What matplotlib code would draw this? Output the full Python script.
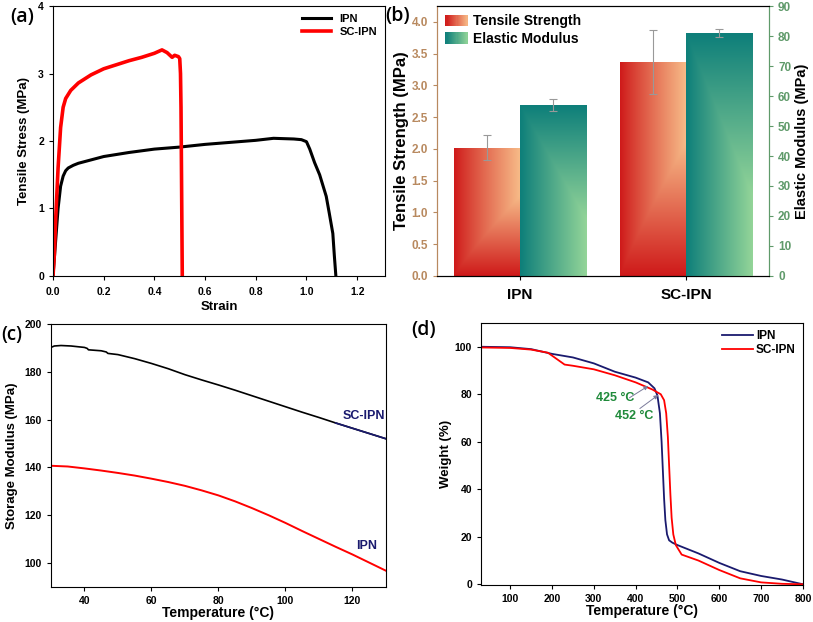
import numpy as np
import matplotlib
matplotlib.use('Agg')
import matplotlib.pyplot as plt
from matplotlib.patches import Rectangle
from matplotlib.legend_handler import HandlerBase
from matplotlib.colors import to_rgb

plt.rcParams['font.family'] = ['Liberation Sans', 'DejaVu Sans']
plt.rcParams['font.weight'] = 'bold'
plt.rcParams['axes.labelweight'] = 'bold'
plt.rcParams['xtick.direction'] = 'out'
plt.rcParams['ytick.direction'] = 'out'

# (a) tensile stress-strain curves
strain_ipn = [0, 0.01, 0.02, 0.03, 0.04, 0.05, 0.06, 0.08, 0.1, 0.15, 0.2, 0.3, 0.4, 0.5,
              0.6, 0.7, 0.8, 0.87, 0.95, 0.98, 1.0, 1.013, 1.032, 1.052, 1.078, 1.09,
              1.104, 1.11, 1.114, 1.116]
stress_ipn = [0, 0.5, 1.0, 1.33, 1.48, 1.56, 1.6, 1.64, 1.67, 1.72, 1.77, 1.83, 1.88, 1.91,
              1.95, 1.98, 2.01, 2.04, 2.03, 2.02, 1.99, 1.88, 1.68, 1.5, 1.18, 0.93,
              0.63, 0.3, 0.1, 0]
strain_sc = [0, 0.005, 0.01, 0.02, 0.03, 0.04, 0.05, 0.07, 0.1, 0.15, 0.2, 0.25, 0.3, 0.35,
             0.4, 0.43, 0.45, 0.47, 0.48, 0.495, 0.5, 0.503, 0.505, 0.507, 0.509, 0.51]
stress_sc = [0, 0.3, 0.8, 1.6, 2.2, 2.5, 2.63, 2.75, 2.86, 2.98, 3.07, 3.13, 3.19, 3.24,
             3.3, 3.35, 3.31, 3.24, 3.27, 3.25, 3.22, 3.0, 2.5, 1.5, 0.5, 0]

# (b) bar chart
samples = ['IPN', 'SC-IPN']
tensile_strength = [2.02, 3.37]
tensile_err = [0.2, 0.5]
elastic_modulus = [57, 81]
elastic_err = [2.0, 1.4]

# (c) DMA storage modulus
temp_c = [30, 31, 33, 36, 40, 40.8, 41.2, 45, 46.5, 47, 50, 55, 60, 65, 70, 75, 80, 85,
          90, 95, 100, 105, 110, 115, 120, 125, 130]
mod_sc = [190.2, 190.8, 191, 190.8, 190.2, 189.8, 189.2, 188.8, 188.3, 187.7, 187.2, 185.5,
          183.5, 181.3, 178.8, 176.6, 174.5, 172.3, 170, 167.7, 165.4, 163.1, 160.9, 158.6,
          156.4, 154.2, 152]
temp_c2 = [30, 35, 40, 45, 50, 55, 60, 65, 70, 75, 80, 85, 90, 95, 100, 105, 110, 115, 120,
           125, 130]
mod_ipn = [140.7, 140.4, 139.6, 138.7, 137.7, 136.6, 135.3, 133.9, 132.3, 130.4, 128.3, 125.8,
           123, 120, 116.8, 113.4, 110.1, 106.8, 103.6, 100.2, 96.8]

# (d) TGA
temp_ipn = [30, 100, 150, 200, 250, 300, 350, 400, 430, 445, 452, 458, 462, 465, 468, 471,
            475, 480, 488, 500, 550, 600, 650, 700, 750, 800]
wt_ipn = [100, 99.8, 99, 97, 95.5, 93, 89.5, 87, 85, 82.5, 79.5, 72, 60, 48, 36, 27,
          21, 18.5, 17.5, 16.5, 13, 9, 5.5, 3.5, 2, 0]
temp_sc = [30, 100, 150, 190, 210, 230, 250, 300, 350, 400, 440, 460, 468, 473, 477, 480,
           483, 486, 490, 496, 510, 550, 600, 650, 700, 750, 800]
wt_sc = [99.7, 99.5, 98.8, 97.5, 95, 92.5, 92, 90.5, 88, 85, 82, 80, 77.5, 72, 62, 50,
         38, 28, 21, 16.5, 12.5, 10, 6, 2.5, 0.8, 0.2, 0]

fig = plt.figure(figsize=(8.13, 6.22), dpi=100)

# ---------------- (a) ----------------
ax_a = fig.add_axes([0.0652, 0.5563, 0.4084, 0.434])
ax_a.plot(strain_ipn, stress_ipn, color='black', lw=2.2, label='IPN')
ax_a.plot(strain_sc, stress_sc, color='red', lw=2.6, label='SC-IPN')
ax_a.set_xlim(0, 1.31)
ax_a.set_ylim(0, 4)
ax_a.set_xticks([0, 0.2, 0.4, 0.6, 0.8, 1.0, 1.2])
ax_a.set_yticks([0, 1, 2, 3, 4])
ax_a.tick_params(labelsize=7.5, length=3)
ax_a.tick_params(axis='x', pad=5)
ax_a.set_xlabel('Strain', fontsize=9.5, labelpad=3)
ax_a.set_ylabel('Tensile Stress (MPa)', fontsize=9.5, labelpad=6)
ax_a.legend(loc='upper right', frameon=False, fontsize=8, handlelength=2.6,
            borderaxespad=0.3, labelspacing=0.3)
fig.text(0.012, 0.972, '(a)', fontsize=14, family='Open Sans', weight='semibold', va='center')

# ---------------- (b) ----------------
ts_lo, ts_hi = np.array(to_rgb('#cf1a1a')), np.array(to_rgb('#f9c48e'))
em_lo, em_hi = np.array(to_rgb('#0e7f7a')), np.array(to_rgb('#9ad99a'))


def ts_grad(nx=60, ny=120):
    xx, yy = np.meshgrid(np.linspace(0, 1, nx), np.linspace(1, 0, ny))
    t = np.minimum(xx ** 0.9, np.clip(yy * 1.6, 0, 1)) * 0.95
    return ts_lo + (ts_hi - ts_lo) * t[..., None]


def em_grad(nx=60, ny=120):
    xx, yy = np.meshgrid(np.linspace(0, 1, nx), np.linspace(1, 0, ny))
    t = np.minimum(xx, np.clip((1 - yy) * 1.5, 0, 1)) * 0.95
    return em_lo + (em_hi - em_lo) * t[..., None]


class GradHandler(HandlerBase):
    def __init__(self, kind):
        super().__init__()
        self.kind = kind

    def create_artists(self, legend, orig_handle, xdescent, ydescent, width, height,
                       fontsize, trans):
        arts = []
        n = 20
        for i in range(n):
            f = i / (n - 1)
            if self.kind == 'ts':
                c = ts_lo + (ts_hi - ts_lo) * f * 0.9
            else:
                c = em_lo + (em_hi - em_lo) * f * 0.9
            r = Rectangle((-xdescent + width * i / n, -ydescent), width / n + 0.3, height,
                          facecolor=c, edgecolor='none', transform=trans)
            arts.append(r)
        return arts


ax_b = fig.add_axes([0.5375, 0.5563, 0.4084, 0.434])
ax_b2 = ax_b.twinx()
x = np.arange(len(samples))
w = 0.4
bars_ts = ax_b.bar(x - w / 2, tensile_strength, w, color='none', edgecolor='none', zorder=2)
bars_em = ax_b2.bar(x + w / 2, elastic_modulus, w, color='none', edgecolor='none', zorder=2)
for b in bars_ts:
    im = ax_b.imshow(ts_grad(), extent=[b.get_x(), b.get_x() + b.get_width(), 0, b.get_height()],
                     aspect='auto', zorder=2, interpolation='bilinear')
    im.set_clip_path(b)
for b in bars_em:
    im = ax_b2.imshow(em_grad(), extent=[b.get_x(), b.get_x() + b.get_width(), 0, b.get_height()],
                      aspect='auto', zorder=2, interpolation='bilinear')
    im.set_clip_path(b)
ax_b.errorbar(x - w / 2, tensile_strength, yerr=tensile_err, fmt='none', ecolor='#999999',
              elinewidth=0.8, capsize=3, capthick=0.8, zorder=3)
ax_b2.errorbar(x + w / 2, elastic_modulus, yerr=elastic_err, fmt='none', ecolor='#999999',
               elinewidth=0.8, capsize=3, capthick=0.8, zorder=3)
ax_b.set_xlim(-0.5, 1.5)
ax_b.set_ylim(0, 4.25)
ax_b2.set_ylim(0, 90)
ax_b.set_xticks(x)
ax_b.set_xticklabels(samples)
ax_b.set_yticks(np.arange(0, 4.01, 0.5))
ax_b2.set_yticks(np.arange(0, 91, 10))
tan = '#b8895f'
grn = '#5f9a6a'
ax_b.tick_params(axis='y', colors=tan, labelsize=8.5, length=3)
ax_b.tick_params(axis='x', labelsize=11, length=3, pad=6)
ax_b2.tick_params(axis='y', colors=grn, labelsize=8.5, length=3)
ax_b2.spines['left'].set_color(tan)
ax_b2.spines['right'].set_color(grn)
ax_b.spines['left'].set_color(tan)
ax_b.spines['right'].set_color(grn)
ax_b.set_ylabel('Tensile Strength (MPa)', fontsize=12, labelpad=2)
ax_b2.set_ylabel('Elastic Modulus (MPa)', fontsize=10.5, labelpad=3)
h1 = Rectangle((0, 0), 1, 1)
h2 = Rectangle((0, 0), 1, 1)
ax_b.legend([h1, h2], ['Tensile Strength', 'Elastic Modulus'], loc='upper left',
            frameon=False, fontsize=10, handlelength=1.6, handleheight=0.9,
            borderaxespad=0.2, labelspacing=0.25, handletextpad=0.4,
            handler_map={h1: GradHandler('ts'), h2: GradHandler('em')})
fig.text(0.474, 0.974, '(b)', fontsize=14, family='Open Sans', weight='semibold', va='center')

# ---------------- (c) ----------------
ax_c = fig.add_axes([0.0627, 0.0563, 0.412, 0.4228])
ax_c.plot(temp_c, mod_sc, color='black', lw=1.2)
tc = np.array(temp_c)
ax_c.plot(tc[tc >= 115], np.array(mod_sc)[tc >= 115], color='#1a1a6e', lw=1.2)
ax_c.plot(temp_c2, mod_ipn, color='red', lw=1.4)
ax_c.text(117, 161.6, 'SC-IPN', color='#1a1a6e', fontsize=9, va='center')
ax_c.text(121, 107.1, 'IPN', color='#1a1a6e', fontsize=9, va='center')
ax_c.set_xlim(30, 130)
ax_c.set_ylim(90, 200)
ax_c.set_xticks([40, 60, 80, 100, 120])
ax_c.set_yticks([100, 120, 140, 160, 180, 200])
ax_c.tick_params(labelsize=7.5, length=3)
ax_c.set_xlabel('Temperature (°C)', fontsize=10, labelpad=0)
ax_c.set_ylabel('Storage Modulus (MPa)', fontsize=9.5, labelpad=5)
fig.text(0.002, 0.462, '(c)', fontsize=13.5, family='Open Sans', weight='semibold', va='center')

# ---------------- (d) ----------------
ax_d = fig.add_axes([0.5916, 0.0595, 0.396, 0.4212])
ax_d.plot(temp_ipn, wt_ipn, color='#1a1a6e', lw=1.3, label='IPN')
ax_d.plot(temp_sc, wt_sc, color='red', lw=1.3, label='SC-IPN')
ax_d.annotate('', xy=(430, 83.5), xytext=(385, 78.5),
              arrowprops=dict(arrowstyle='-|>', color='#7a7a9a', lw=0.7,
                              mutation_scale=6, shrinkA=0, shrinkB=0))
ax_d.annotate('', xy=(454, 79.7), xytext=(410, 74),
              arrowprops=dict(arrowstyle='-|>', color='#7a7a9a', lw=0.7,
                              mutation_scale=6, shrinkA=0, shrinkB=0))
ax_d.text(305, 78.3, '425 °C', color='#1f8a3a', fontsize=9, va='center')
ax_d.text(350, 71.0, '452 °C', color='#1f8a3a', fontsize=9, va='center')
ax_d.set_xlim(30, 800)
ax_d.set_ylim(-0.3, 110)
ax_d.set_xticks([100, 200, 300, 400, 500, 600, 700, 800])
ax_d.set_yticks([0, 20, 40, 60, 80, 100])
ax_d.tick_params(labelsize=7.5, length=3)
ax_d.set_xlabel('Temperature (°C)', fontsize=10, labelpad=0)
ax_d.set_ylabel('Weight (%)', fontsize=9.5, labelpad=2)
ax_d.legend(loc='upper right', frameon=False, fontsize=8.5, handlelength=2.6,
            borderaxespad=0.2, labelspacing=0.2, handletextpad=0.3)
fig.text(0.506, 0.47, '(d)', fontsize=14, family='Open Sans', weight='semibold', va='center')

fig.savefig('out.png', dpi=100)
